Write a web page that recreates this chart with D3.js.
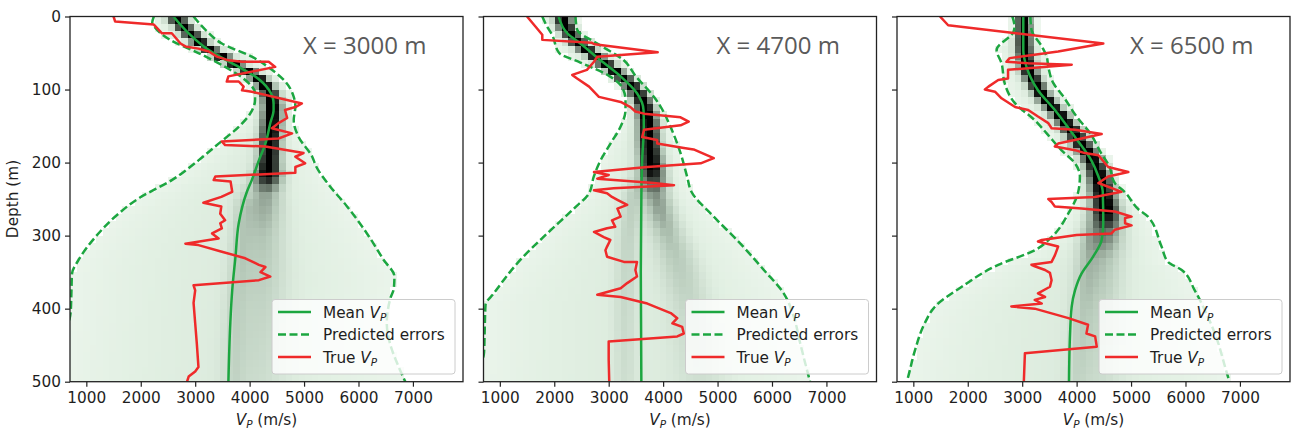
<!DOCTYPE html>
<html>
<head>
<meta charset="utf-8">
<script src="https://cdn.jsdelivr.net/npm/d3@7"></script>
<style>
  body { margin: 0; background: #fff; }
  svg { display: block; }
</style>
</head>
<body>
<svg id="chart" width="1293" height="435"></svg>
<script>
// ---------------- data (depth in m, VP in m/s) ----------------
const panelLabels = ["X = 3000 m", "X = 4700 m", "X = 6500 m"];
const depthTicks = [0, 100, 200, 300, 400, 500];
const vpTicks = [1000, 2000, 3000, 4000, 5000, 6000, 7000];
const legendLabels = ["Mean", "Predicted errors", "True"];

// X = 3000 m
const trueVp3000 = [[0,1500],[7,1530],[11,2240],[23,2390],[23,2570],[37,2730],[41,2820],[44,3060],[48,3250],[55,3400],[60,3610],[62,3860],[62,4350],[69,4470],[82,3610],[89,3580],[89,3800],[96,3890],[101,3860],[103,4040],[119,4960],[124,4840],[128,4650],[139,4690],[146,4530],[153,4410],[160,4780],[167,4530],[171,3490],[176,3550],[178,4290],[187,4990],[192,4840],[201,5020],[206,4840],[214,4840],[219,3370],[224,3340],[226,3650],[240,3680],[247,3480],[255,3150],[260,3480],[270,3460],[279,3550],[283,3460],[290,3490],[297,3310],[304,3430],[306,3250],[311,2820],[313,3060],[322,3490],[331,3920],[340,4170],[343,4290],[350,4200],[356,4380],[361,4170],[368,2970],[375,3000],[392,2970],[420,3000],[448,3030],[480,3060],[486,3000],[493,2880],[500,2850]];
const meanVp3000 = [[0,2600],[23,2880],[46,3250],[69,3800],[82,4100],[100,4350],[119,4440],[128,4440],[146,4380],[174,4290],[197,4170],[224,4040],[240,3950],[283,3800],[329,3740],[375,3680],[420,3645],[500,3610]];
const lowerErr3000 = [[0,2240],[9,2210],[14,2250],[32,2540],[50,3060],[69,3550],[87,3920],[105,4100],[114,4100],[133,4010],[151,3800],[174,3430],[197,3060],[224,2570],[249,1960],[270,1590],[302,1165],[333,860],[352,737],[380,725],[405,712],[430,640],[500,500]];
const upperErr3000 = [[0,2970],[18,3185],[37,3490],[55,4040],[73,4410],[89,4655],[110,4810],[123,4840],[142,4810],[165,4900],[192,5150],[205,5220],[230,5450],[260,5790],[297,6155],[333,6460],[356,6660],[372,6650],[385,6590],[420,6520],[448,6580],[480,6740],[500,6860]];
const ridgeVp3000 = [[0,2620],[20,2850],[40,3150],[60,3600],[80,4100],[100,4350],[120,4420],[150,4400],[180,4370],[210,4350],[250,4300],[300,4250],[400,4200],[500,4100]];
const ridgePeak3000 = [[0,1],[215,1],[240,0.32],[300,0.2],[400,0.13],[500,0.09]];
const ridgeSpread3000 = [[0,105],[100,110],[200,130],[260,220],[350,300],[500,380]];
const branchVp3000 = [[220,3950],[300,3850],[400,3750],[500,3700]];
const branchPeak3000 = [[0,0],[220,0],[260,0.14],[400,0.11],[500,0.08]];

// X = 4700 m
const trueVp4700 = [[0,1500],[25,1780],[32,1780],[36,2690],[38,2740],[49,3900],[55,2790],[62,2730],[73,2600],[80,2330],[85,2420],[96,2640],[110,2820],[117,3220],[124,3400],[130,3490],[133,3650],[138,4320],[144,4470],[149,4320],[155,3650],[165,3615],[169,3890],[174,3890],[180,4380],[182,4560],[194,4930],[201,4690],[206,3710],[213,2730],[217,3000],[222,2790],[228,3830],[231,4200],[235,3090],[238,2730],[242,2970],[247,3060],[251,3160],[258,3340],[263,3160],[274,3220],[279,3060],[288,3120],[290,2970],[295,2730],[302,2910],[306,3030],[315,2970],[320,2940],[329,2970],[336,3280],[336,3520],[347,3490],[356,3520],[365,3340],[372,3220],[381,2790],[384,3220],[393,3710],[406,4140],[413,4260],[420,4170],[425,4350],[434,4380],[438,4260],[445,3000],[470,3000],[500,3010]];
const meanVp4700 = [[0,2080],[23,2240],[37,2480],[60,2850],[82,3220],[105,3520],[128,3640],[151,3645],[197,3615],[247,3600],[350,3590],[500,3600]];
const lowerErr4700 = [[0,1780],[14,1870],[25,1960],[50,2090],[63,2480],[81,3000],[96,3240],[114,3309],[128,3309],[151,3217],[174,3033],[197,2850],[219,2727],[242,2640],[263,2360],[297,1870],[333,1380],[379,890],[395,737],[430,722],[460,710],[480,650],[500,600]];
const upperErr4700 = [[0,2390],[18,2420],[37,2790],[60,3277],[82,3500],[110,3830],[123,3950],[151,4135],[187,4320],[219,4440],[240,4520],[274,4930],[311,5420],[347,5850],[379,6215],[411,6400],[448,6520],[493,6675],[500,6700]];
const ridgeVp4700 = [[0,2150],[20,2250],[40,2500],[60,2850],[80,3200],[100,3500],[120,3650],[140,3720],[170,3740],[200,3780],[240,3850],[280,4000],[330,4250],[400,4500],[500,4700]];
const ridgePeak4700 = [[0,1],[205,1],[240,0.38],[300,0.22],[400,0.12],[500,0.08]];
const ridgeSpread4700 = [[0,105],[100,110],[200,140],[260,180],[350,250],[500,330]];
const branchVp4700 = [[200,3600],[250,3450],[300,3350],[400,3300],[500,3300]];
const branchPeak4700 = [[0,0],[200,0],[240,0.16],[350,0.12],[500,0.08]];

// X = 6500 m
const trueVp6500 = [[0,1490],[12,1640],[37,4490],[48,3660],[57,2770],[62,2710],[64,3110],[66,3910],[71,3110],[73,2740],[85,2740],[87,2560],[96,2380],[100,2315],[103,2500],[112,2620],[124,2870],[128,3110],[137,3290],[146,3480],[153,3540],[155,3970],[161,4460],[167,4090],[174,3660],[178,3600],[183,3970],[187,4150],[190,4400],[206,4580],[213,4950],[219,4580],[228,4400],[240,4825],[247,4335],[250,3480],[254,3540],[260,3600],[263,4090],[267,4700],[274,5010],[276,4890],[283,4890],[286,5010],[292,4700],[297,4640],[299,4000],[306,3360],[308,3290],[315,3660],[327,3600],[336,3540],[340,3170],[342,3230],[347,3420],[351,3510],[361,3540],[370,3510],[379,3290],[384,3420],[388,3230],[393,3360],[397,2800],[400,3230],[413,3850],[422,4210],[434,4180],[438,4340],[452,4370],[461,3050],[500,3030]];
const meanVp6500 = [[0,3020],[46,3020],[69,3080],[101,3290],[128,3600],[165,3970],[197,4270],[219,4400],[240,4480],[283,4490],[306,4460],[329,4300],[352,4090],[375,3970],[397,3910],[443,3875],[500,3860]];
const lowerErr6500 = [[0,2820],[14,2860],[21,2840],[46,2530],[64,2620],[92,2680],[119,2870],[142,3230],[160,3450],[183,3720],[201,3970],[219,4060],[240,4030],[270,3845],[302,3540],[320,3233],[340,2560],[370,1890],[397,1400],[420,1210],[457,1030],[493,906],[500,880]];
const upperErr6500 = [[0,3150],[18,3170],[41,3360],[55,3450],[69,3480],[91,3570],[110,3760],[137,4000],[160,4250],[187,4450],[205,4600],[228,4700],[240,4880],[265,5150],[274,5310],[315,5560],[336,5680],[347,5930],[375,6170],[402,6355],[434,6540],[493,6780],[500,6810]];
const ridgeVp6500 = [[0,3030],[40,3030],[60,3060],[80,3150],[100,3300],[120,3500],[140,3750],[160,3950],[180,4150],[200,4330],[220,4420],[250,4500],[280,4550],[300,4520],[350,4450],[400,4400],[500,4350]];
const ridgePeak6500 = [[0,1],[265,1],[295,0.45],[330,0.22],[400,0.14],[500,0.09]];
const ridgeSpread6500 = [[0,95],[100,105],[200,130],[260,160],[330,250],[500,320]];
const branchVp6500 = [[260,4300],[320,4200],[400,4100],[500,4000]];
const branchPeak6500 = [[0,0],[260,0],[300,0.14],[400,0.11],[500,0.08]];

const panels = [
  { label: panelLabels[0], trueVp: trueVp3000, mean: meanVp3000, lower: lowerErr3000, upper: upperErr3000,
    ridge: ridgeVp3000, peak: ridgePeak3000, spread: ridgeSpread3000, branch: branchVp3000, branchPeak: branchPeak3000 },
  { label: panelLabels[1], trueVp: trueVp4700, mean: meanVp4700, lower: lowerErr4700, upper: upperErr4700,
    ridge: ridgeVp4700, peak: ridgePeak4700, spread: ridgeSpread4700, branch: branchVp4700, branchPeak: branchPeak4700 },
  { label: panelLabels[2], trueVp: trueVp6500, mean: meanVp6500, lower: lowerErr6500, upper: upperErr6500,
    ridge: ridgeVp6500, peak: ridgePeak6500, spread: ridgeSpread6500, branch: branchVp6500, branchPeak: branchPeak6500 }
];

// ---------------- layout ----------------
const panelLeft = [70, 483.5, 897];
const panelTop = 16.5, pw = 393, ph = 365.2;
const GREEN = "#1ca640", RED = "#ef2a2a";
const FONT = "DejaVu Sans, sans-serif";
const LW = 2.5;

const x = d3.scaleLinear().domain([700, 7920]).range([0, pw]);
const y = d3.scaleLinear().domain([0, 500]).range([0, ph]);

// density colour: pale green for sparse bins, black for the densest
const color = d3.scaleLinear()
  .domain([0, 0.1, 0.3, 0.6, 1])
  .range(["#f3f9f3", "#e2f0e3", "#b8cbbb", "#5b685d", "#000000"])
  .clamp(true);

// piecewise-linear lookup along depth
function at(knots, d) {
  if (d <= knots[0][0]) return knots[0][1];
  for (let i = 1; i < knots.length; i++) {
    if (d <= knots[i][0]) {
      const [d0, v0] = knots[i - 1], [d1, v1] = knots[i];
      return d1 === d0 ? v1 : v0 + (v1 - v0) * (d - d0) / (d1 - d0);
    }
  }
  return knots[knots.length - 1][1];
}

// posterior histogram bins
const dStep = 10, vStep = 120;
function histogram(p) {
  const cells = [];
  for (let d0 = 0; d0 < 500; d0 += dStep) {
    const dc = d0 + dStep / 2;
    const lo = at(p.lower, dc), hi = at(p.upper, dc), m = at(p.mean, dc);
    const r = at(p.ridge, dc), pk = at(p.peak, dc), s = at(p.spread, dc);
    const bPk = at(p.branchPeak, dc), bV = at(p.branch, dc);
    for (let v0 = 700; v0 < 7920; v0 += vStep) {
      const vc = v0 + vStep / 2;
      let val = 0;
      if (vc > lo && vc < hi) {
        const t = vc < m ? (m - vc) / Math.max(m - lo, 1) : (vc - m) / Math.max(hi - m, 1);
        val += 0.05 + 0.07 * (1 - Math.min(t, 1) ** 2);
      }
      val += pk * Math.exp(-0.5 * ((vc - r) / s) ** 2);
      val += bPk * Math.exp(-0.5 * ((vc - bV) / 140) ** 2);
      if (val > 0.03) cells.push({ d0, v0, val });
    }
  }
  return cells;
}

const svg = d3.select("#chart");
const defs = svg.append("defs");

panels.forEach((p, i) => {
  const g = svg.append("g").attr("transform", `translate(${panelLeft[i]},${panelTop})`);
  const clipId = "clip" + i;
  defs.append("clipPath").attr("id", clipId)
    .append("rect").attr("x", 0).attr("y", 0).attr("width", pw).attr("height", ph);

  const plot = g.append("g").attr("clip-path", `url(#${clipId})`);

  // histogram
  plot.append("g").selectAll("rect")
    .data(histogram(p))
    .join("rect")
    .attr("x", c => x(c.v0))
    .attr("y", c => y(c.d0))
    .attr("width", c => x(c.v0 + vStep) - x(c.v0) + 0.4)
    .attr("height", c => y(c.d0 + dStep) - y(c.d0) + 0.4)
    .attr("fill", c => color(c.val))
    .attr("shape-rendering", "crispEdges");

  const smooth = d3.line().x(d => x(d[1])).y(d => y(d[0])).curve(d3.curveMonotoneY);
  const straight = d3.line().x(d => x(d[1])).y(d => y(d[0]));

  [p.lower, p.upper].forEach(b => {
    plot.append("path").attr("d", smooth(b))
      .attr("fill", "none").attr("stroke", GREEN).attr("stroke-width", LW)
      .attr("stroke-dasharray", "8,3.5");
  });
  plot.append("path").attr("d", smooth(p.mean))
    .attr("fill", "none").attr("stroke", GREEN).attr("stroke-width", LW);
  plot.append("path").attr("d", straight(p.trueVp))
    .attr("fill", "none").attr("stroke", RED).attr("stroke-width", LW)
    .attr("stroke-linejoin", "round");

  // axes
  const yAxis = d3.axisLeft(y).tickValues(depthTicks).tickSize(5).tickPadding(4);
  if (i > 0) yAxis.tickFormat("");
  const ya = g.append("g").call(yAxis);
  const xa = g.append("g").attr("transform", `translate(0,${ph})`)
    .call(d3.axisBottom(x).tickValues(vpTicks).tickSize(5).tickPadding(5).tickFormat(d3.format("d")));
  [ya, xa].forEach(a => {
    a.select(".domain").remove();
    a.selectAll("line").attr("stroke", "#222").attr("stroke-width", 1.2);
    a.selectAll("text").attr("font-family", FONT).attr("font-size", 15.3).attr("fill", "#1e1e1e");
  });

  // frame
  g.append("rect").attr("x", 0).attr("y", 0).attr("width", pw).attr("height", ph)
    .attr("fill", "none").attr("stroke", "#222").attr("stroke-width", 1.3);

  // panel label
  g.append("text").attr("x", 233).attr("y", 37)
    .attr("font-family", "Open Sans, sans-serif").attr("font-size", 24)
    .attr("fill", "#5a5a5a").text(p.label);

  // x axis title
  const xt = g.append("text").attr("x", pw / 2).attr("y", ph + 43.5)
    .attr("text-anchor", "middle").attr("font-family", FONT).attr("font-size", 15.3).attr("fill", "#1e1e1e");
  xt.append("tspan").attr("font-style", "italic").text("V");
  xt.append("tspan").attr("font-style", "italic").attr("font-size", 10.5).attr("dy", 3).text("P");
  xt.append("tspan").attr("dy", -3).text(" (m/s)");

  // legend
  const lg = g.append("g").attr("transform", "translate(202,283)");
  lg.append("rect").attr("x", 0).attr("y", 0).attr("width", 183).attr("height", 74.5).attr("rx", 3)
    .attr("fill", "#fff").attr("fill-opacity", 0.8).attr("stroke", "#cccccc").attr("stroke-width", 1);
  const rows = [
    { dash: null, stroke: GREEN, label: legendLabels[0], sub: true },
    { dash: "8,3.5", stroke: GREEN, label: legendLabels[1], sub: false },
    { dash: null, stroke: RED, label: legendLabels[2], sub: true }
  ];
  rows.forEach((r, k) => {
    const ry = 12.5 + k * 22.5;
    lg.append("line").attr("x1", 6).attr("x2", 39).attr("y1", ry).attr("y2", ry)
      .attr("stroke", r.stroke).attr("stroke-width", LW)
      .attr("stroke-dasharray", r.dash);
    const t = lg.append("text").attr("x", 51).attr("y", ry + 5.5)
      .attr("font-family", FONT).attr("font-size", 15.3).attr("fill", "#1e1e1e");
    t.append("tspan").text(r.label + (r.sub ? " " : ""));
    if (r.sub) {
      t.append("tspan").attr("font-style", "italic").text("V");
      t.append("tspan").attr("font-style", "italic").attr("font-size", 10.5).attr("dy", 3).text("P");
    }
  });
});

// y axis title
svg.append("text").attr("transform", "translate(18,199) rotate(-90)")
  .attr("text-anchor", "middle").attr("font-family", FONT).attr("font-size", 15.3).attr("fill", "#1e1e1e")
  .text("Depth (m)");
</script>
</body>
</html>
